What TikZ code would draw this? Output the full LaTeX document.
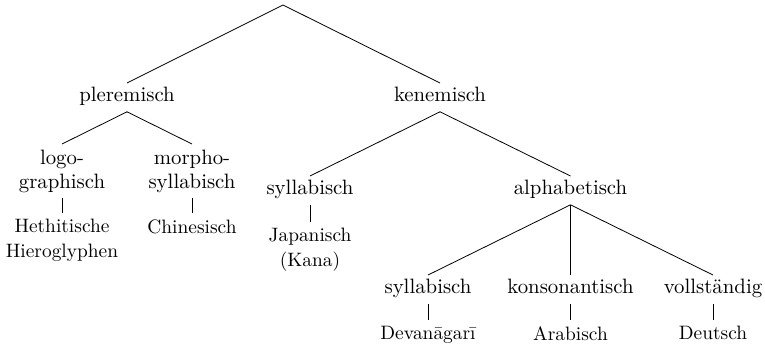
\documentclass[tikz,border=0pt]{standalone}
\usepackage{fontspec}
\usepackage{tikz}
\usetikzlibrary{positioning}

\begin{document}
\begin{tikzpicture}[x=0.5pt, y=-0.5pt,
  every node/.style={font=\fontsize{10.4}{12}\selectfont},
  cat/.style={anchor=north, align=center, inner xsep=1pt, inner ysep=2.7pt},
  lone/.style={anchor=north, inner xsep=1pt, inner ysep=2pt,
               text height=7pt, text depth=3pt},
  leaf/.style={anchor=north, align=center, inner xsep=1pt, inner ysep=3pt,
               font=\fontsize{9.7}{12.5}\selectfont}]
  \useasboundingbox (0,0) rectangle (765,345);

  % Root
  \coordinate (root) at (283,5);

  % First level
  \node[lone] (plere) at (127,83) {pleremisch};
  \node[lone] (kene) at (440,83) {kenemisch};

  % Second level
  \node[cat] (logo) at (62,144) {logo-\\graphisch};
  \node[cat] (morpho) at (192,144) {morpho-\\syllabisch};
  \node[lone] (syll) at (310,176) {syllabisch};
  \node[lone] (alpha) at (570.5,176) {alphabetisch};

  % Third level under alphabetisch
  \node[lone] (asyll) at (428,275) {syllabisch};
  \node[lone] (kons) at (570.5,275) {konsonantisch};
  \node[lone] (voll) at (713,275) {vollständig};

  % Examples
  \node[leaf] (heth) at (62,213) {Hethitische\\Hieroglyphen};
  \node[leaf] (chin) at (192,213) {Chinesisch};
  \node[leaf] (jap) at (310,222) {Japanisch\\(Kana)};
  \node[leaf] (deva) at (428,320) {Devanāgarī};
  \node[leaf] (arab) at (570.5,320) {Arabisch};
  \node[leaf] (deut) at (713,320) {Deutsch};

  % Edges
  \draw (plere.north) -- (root) -- (kene.north);
  \foreach \a/\b in {plere/logo, plere/morpho, kene/syll, kene/alpha,
                     alpha/asyll, alpha/kons, alpha/voll,
                     logo/heth, morpho/chin, syll/jap,
                     asyll/deva, kons/arab, voll/deut}
    \draw (\a.south) -- (\b.north);
\end{tikzpicture}
\end{document}
